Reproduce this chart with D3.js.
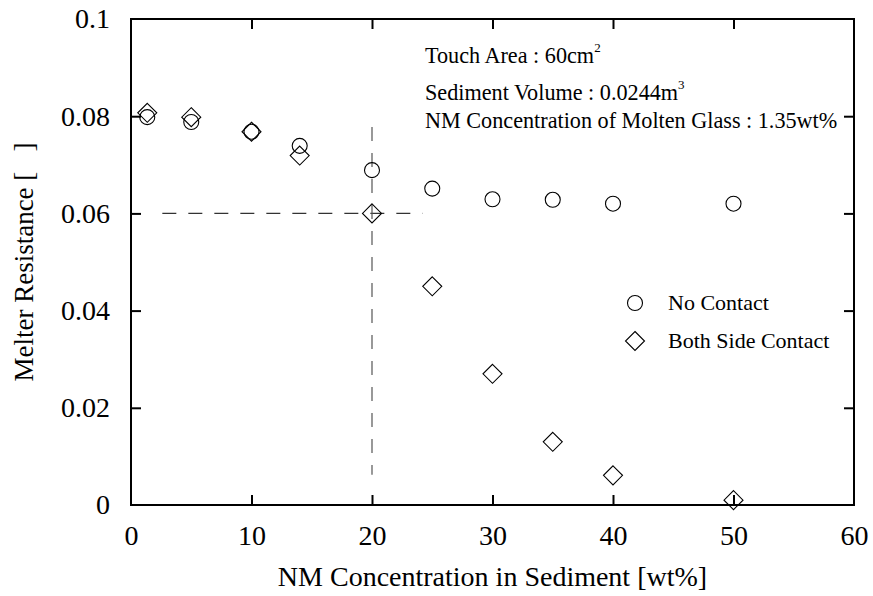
<!DOCTYPE html>
<html>
<head>
<meta charset="utf-8">
<script src="https://cdn.jsdelivr.net/npm/d3@7"></script>
</head>
<body style="margin:0;padding:0;background:#fff">
<svg id="chart" width="873" height="596" style="display:block"></svg>
<script>
// NM concentration in sediment [wt%]
const concentration = [1.35, 5, 10, 14, 20, 25, 30, 35, 40, 50];
// Melter resistance, no contact
const noContact = [0.0798, 0.0788, 0.0768, 0.0739, 0.0689, 0.0651, 0.0629, 0.0628, 0.0620, 0.0620];
// Melter resistance, both side contact
const bothSideContact = [0.0807, 0.0798, 0.0768, 0.0719, 0.0600, 0.0450, 0.0270, 0.0130, 0.0061, 0.0010];

const xTicks = [0, 10, 20, 30, 40, 50, 60];
const yTicks = [0, 0.02, 0.04, 0.06, 0.08, 0.1];
const yTickLabels = ["0", "0.02", "0.04", "0.06", "0.08", "0.1"];

// Reference lines marking the 0.06 resistance at 20 wt%
const hGuide = { y: 0.06, x0: 2.6, x1: 24.2 };
const vGuide = { x: 20, y0: 0.0778, y1: 0.0062 };

const annotations = [
  { main: "Touch Area : 60cm", sup: "2" },
  { main: "Sediment Volume : 0.0244m", sup: "3" },
  { main: "NM Concentration of Molten Glass : 1.35wt%", sup: "" }
];

const FONT = "'Liberation Serif', 'Times New Roman', Times, serif";

const svg = d3.select("#chart");
const m = { left: 131, right: 19, top: 19, bottom: 91 };
const W = 873, H = 596;

const x = d3.scaleLinear().domain([0, 60]).range([m.left, W - m.right]);
const y = d3.scaleLinear().domain([0, 0.1]).range([H - m.bottom, m.top]);

const tickLen = 10;

// frame
svg.append("rect")
  .attr("x", x(0)).attr("y", y(0.1))
  .attr("width", x(60) - x(0)).attr("height", y(0) - y(0.1))
  .attr("fill", "none").attr("stroke", "#000").attr("stroke-width", 2);

// axes with inward ticks
const xAxisB = d3.axisBottom(x).tickValues(xTicks).tickSizeInner(-tickLen).tickSizeOuter(0).tickPadding(20).tickFormat(d3.format("d"));
const xAxisT = d3.axisTop(x).tickValues(xTicks).tickSizeInner(-tickLen).tickSizeOuter(0).tickFormat("");
const yAxisL = d3.axisLeft(y).tickValues(yTicks).tickSizeInner(-tickLen).tickSizeOuter(0).tickPadding(21).tickFormat((d, i) => yTickLabels[i]);
const yAxisR = d3.axisRight(y).tickValues(yTicks).tickSizeInner(-tickLen).tickSizeOuter(0).tickFormat("");

function styleAxis(g) {
  g.attr("font-family", null).style("font-family", FONT);
  g.select(".domain").remove();
  g.selectAll(".tick line").attr("stroke", "#000").attr("stroke-width", 2);
  g.selectAll(".tick text").attr("font-size", 28).style("font-family", FONT).attr("fill", "#000");
}

svg.append("g").attr("transform", `translate(0,${y(0)})`).call(xAxisB).call(styleAxis);
svg.append("g").attr("transform", `translate(0,${y(0.1)})`).call(xAxisT).call(styleAxis);
svg.append("g").attr("transform", `translate(${x(0)},0)`).call(yAxisL).call(styleAxis);
svg.append("g").attr("transform", `translate(${x(60)},0)`).call(yAxisR).call(styleAxis);

// tick marks at the frame corners coincide with the frame itself
svg.selectAll(".tick").filter(d => d === 0 || d === 60 || d === 0.1).select("line").remove();

// guide lines
svg.append("line")
  .attr("x1", x(hGuide.x0)).attr("x2", x(hGuide.x1))
  .attr("y1", y(hGuide.y)).attr("y2", y(hGuide.y))
  .attr("stroke", "#333").attr("stroke-width", 1.2).attr("stroke-dasharray", "14,12");
svg.append("line")
  .attr("x1", x(vGuide.x)).attr("x2", x(vGuide.x))
  .attr("y1", y(vGuide.y0)).attr("y2", y(vGuide.y1))
  .attr("stroke", "#555").attr("stroke-width", 1.2).attr("stroke-dasharray", "14,12");

// markers
const circleR = 7.5;
const diamondR = 9.5;
const diamondPath = r => `M0,${-r}L${r},0L0,${r}L${-r},0Z`;

svg.append("g").selectAll("circle")
  .data(concentration.map((c, i) => [c, noContact[i]]))
  .join("circle")
  .attr("cx", d => x(d[0])).attr("cy", d => y(d[1])).attr("r", circleR)
  .attr("fill", "none").attr("stroke", "#000").attr("stroke-width", 1.1);

svg.append("g").selectAll("path")
  .data(concentration.map((c, i) => [c, bothSideContact[i]]))
  .join("path")
  .attr("transform", d => `translate(${x(d[0])},${y(d[1])})`)
  .attr("d", diamondPath(diamondR))
  .attr("fill", "none").attr("stroke", "#000").attr("stroke-width", 1.1);

// axis titles
svg.append("text")
  .attr("x", x(30)).attr("y", 586)
  .attr("text-anchor", "middle").attr("font-size", 28)
  .style("font-family", FONT)
  .text("NM Concentration in Sediment [wt%]");

svg.append("text")
  .attr("transform", `translate(33,${(y(0) + y(0.1)) / 2}) rotate(-90)`)
  .attr("text-anchor", "middle").attr("font-size", 27)
  .style("font-family", FONT).style("white-space", "pre")
  .text("Melter Resistance [   ]");

// condition notes
const noteY = [63, 100, 128];
annotations.forEach((a, i) => {
  const t = svg.append("text").attr("x", 425).attr("y", noteY[i]).attr("font-size", 22.2)
    .style("font-family", FONT);
  t.append("tspan").text(a.main);
  if (a.sup) t.append("tspan").attr("font-size", 13).attr("dy", -11).text(a.sup);
});

// legend
const legend = svg.append("g");
legend.append("circle").attr("cx", 635).attr("cy", 303).attr("r", circleR)
  .attr("fill", "none").attr("stroke", "#000").attr("stroke-width", 1.1);
legend.append("text").attr("x", 668).attr("y", 310).attr("font-size", 22)
  .style("font-family", FONT).text("No Contact");
legend.append("path").attr("transform", "translate(635,341)").attr("d", diamondPath(diamondR))
  .attr("fill", "none").attr("stroke", "#000").attr("stroke-width", 1.1);
legend.append("text").attr("x", 668).attr("y", 348).attr("font-size", 22)
  .style("font-family", FONT).text("Both Side Contact");
</script>
</body>
</html>
